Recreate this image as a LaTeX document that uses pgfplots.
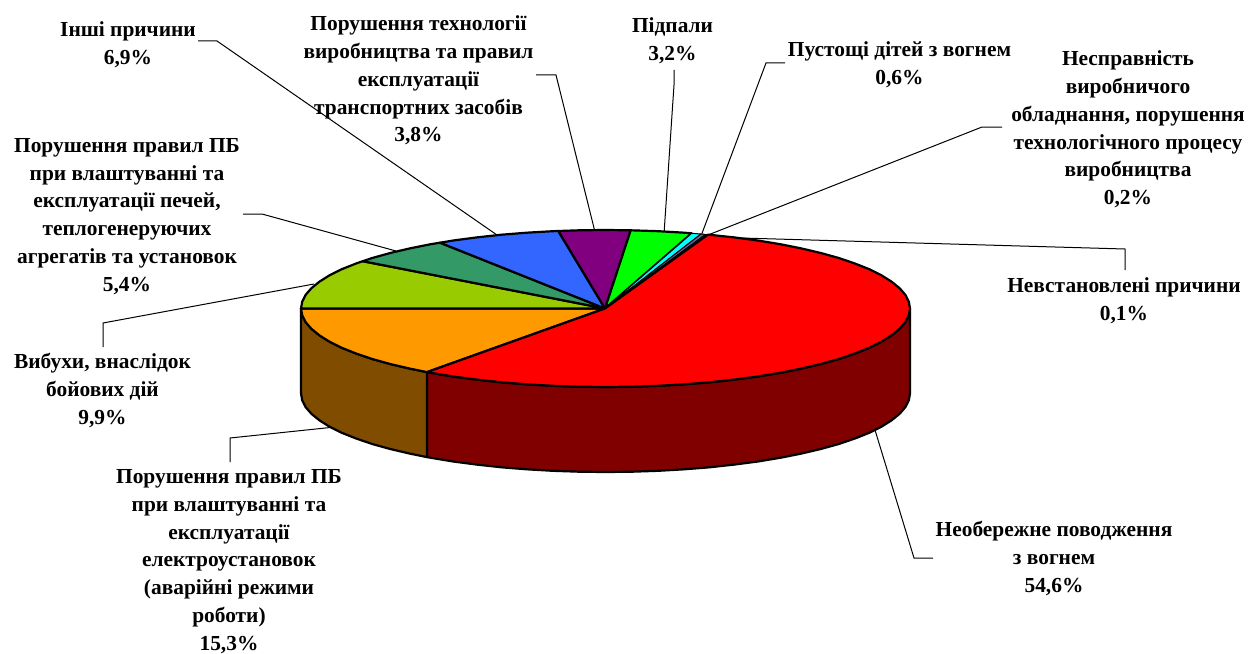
\documentclass[border=0pt]{standalone}
\usepackage{pgfplots}
\pgfplotsset{compat=1.18}
\usepackage{fontspec}
\setmainfont{Liberation Serif}
\definecolor{cRed}{HTML}{FF0000}
\definecolor{cDarkRed}{HTML}{800000}
\definecolor{cOrange}{HTML}{FF9900}
\definecolor{cBrown}{HTML}{804D00}
\definecolor{cLime}{HTML}{99CC00}
\definecolor{cTeal}{HTML}{339966}
\definecolor{cBlue}{HTML}{3366FF}
\definecolor{cPurple}{HTML}{800080}
\definecolor{cGreen}{HTML}{00FF00}
\definecolor{cCyan}{HTML}{00FFFF}
\definecolor{cSlate}{HTML}{666699}
\definecolor{cNavy}{HTML}{333399}
\tikzset{lab/.style={font=\fontsize{21.4}{27.8}\selectfont\bfseries,align=center,inner sep=0pt,anchor=center}}
\pgfplotsset{wedge/.style={draw=black,line width=2.2pt,line join=round},
leader/.style={draw=black,line width=1pt}}
\begin{document}
\begin{tikzpicture}
\begin{axis}[scale only axis,width=1253pt,height=653pt,xmin=0,xmax=1253,ymin=0,ymax=653,y dir=reverse,hide axis,clip=false]
\path (axis cs:0,0) rectangle (axis cs:1253,653);
% leaders
\addplot[leader] coordinates {(198,41)(217,41)(497,235)};
\addplot[leader] coordinates {(536,75)(556,75)(595,232)};
\addplot[leader] coordinates {(674,70)(674,85)(664,234)};
\addplot[leader] coordinates {(785,63)(766,63)(701,236)};
\addplot[leader] coordinates {(1002,127)(982,127)(708,235)};
\addplot[leader] coordinates {(1125,270)(1125,249)(706,237)};
\addplot[leader] coordinates {(933,558)(914,558)(875,430)};
\addplot[leader] coordinates {(230,462)(230,438)(335,427)};
\addplot[leader] coordinates {(103,347)(103,323)(314,284)};
\addplot[leader] coordinates {(243,214)(262,214)(396,251)};
% walls
\addplot[wedge,fill=cDarkRed] coordinates {(910,308.5)(908.8,315.3)(905.4,322.1)(899.6,328.8)(891.6,335.3)(881.5,341.7)(869.2,347.8)(854.9,353.5)(838.8,359)(820.8,364)(801.2,368.6)(780.2,372.8)(757.8,376.5)(734.2,379.6)(709.6,382.3)(684.3,384.3)(658.4,385.8)(632,386.7)(605.5,387)(579,386.7)(552.6,385.8)(526.7,384.3)(501.4,382.3)(476.8,379.6)(453.2,376.5)(430.8,372.8)(427,372.1)
(427,457.1)(430.8,457.8)(453.2,461.5)(476.8,464.6)(501.4,467.3)(526.7,469.3)(552.6,470.8)(579,471.7)(605.5,472)(632,471.7)(658.4,470.8)(684.3,469.3)(709.6,467.3)(734.2,464.6)(757.8,461.5)(780.2,457.8)(801.2,453.6)(820.8,449)(838.8,444)(854.9,438.5)(869.2,432.8)(881.5,426.7)(891.6,420.3)(899.6,413.8)(905.4,407.1)(908.8,400.3)(910,393.5)} -- cycle;
\addplot[wedge,fill=cBrown] coordinates {(427,372.1)(409.8,368.6)(390.2,364)(372.2,359)(356.1,353.5)(341.8,347.8)(329.5,341.7)(319.4,335.3)(311.4,328.8)(305.6,322.1)(302.2,315.3)(301,308.5)
(301,393.5)(302.2,400.3)(305.6,407.1)(311.4,413.8)(319.4,420.3)(329.5,426.7)(341.8,432.8)(356.1,438.5)(372.2,444)(390.2,449)(409.8,453.6)(427,457.1)} -- cycle;
% top
\addplot[wedge,fill=cOrange] coordinates {(605,308.5)(427,372.1)(409.8,368.6)(390.2,364)(372.2,359)(356.1,353.5)(341.8,347.8)(329.5,341.7)(319.4,335.3)(311.4,328.8)(305.6,322.1)(302.2,315.3)(301,308.5)} -- cycle;
\addplot[wedge,fill=cLime] coordinates {(605,308.5)(301,308.5)(302.2,301.7)(305.6,294.9)(311.4,288.2)(319.4,281.7)(329.5,275.3)(341.8,269.2)(356.1,263.5)(362.7,261.2)} -- cycle;
\addplot[wedge,fill=cTeal] coordinates {(605,308.5)(362.7,261.2)(372.2,258)(390.2,253)(409.8,248.4)(430.8,244.2)(440,242.7)} -- cycle;
\addplot[wedge,fill=cBlue] coordinates {(605,308.5)(440,242.7)(453.2,240.5)(476.8,237.4)(501.4,234.7)(526.7,232.7)(552.6,231.2)(558.3,231)} -- cycle;
\addplot[wedge,fill=cPurple] coordinates {(605,308.5)(558.3,231)(579,230.3)(605.5,230)(630.7,230.3)} -- cycle;
\addplot[wedge,fill=cGreen] coordinates {(605,308.5)(630.7,230.3)(658.4,231.2)(684.3,232.7)(691.7,233.3)} -- cycle;
\addplot[draw=black,line width=1pt,line join=round,fill=cCyan] coordinates {(605,308.5)(691.7,233.3)(701,234)} -- cycle;
\addplot[draw=black,line width=1pt,line join=round,fill=cSlate] coordinates {(605,308.5)(701,234)(705.5,234.4)} -- cycle;
\addplot[draw=black,line width=0.6pt,line join=round,fill=cNavy] coordinates {(605,308.5)(705.5,234.4)(708,234.6)} -- cycle;
\addplot[wedge,fill=cRed] coordinates {(605,308.5)(708,234.6)(734.2,237.4)(757.8,240.5)(780.2,244.2)(801.2,248.4)(820.8,253)(838.8,258)(854.9,263.5)(869.2,269.2)(881.5,275.3)(891.6,281.7)(899.6,288.2)(905.4,294.9)(908.8,301.7)(910,308.5)(908.8,315.3)(905.4,322.1)(899.6,328.8)(891.6,335.3)(881.5,341.7)(869.2,347.8)(854.9,353.5)(838.8,359)(820.8,364)(801.2,368.6)(780.2,372.8)(757.8,376.5)(734.2,379.6)(709.6,382.3)(684.3,384.3)(658.4,385.8)(632,386.7)(605.5,387)(579,386.7)(552.6,385.8)(526.7,384.3)(501.4,382.3)(476.8,379.6)(453.2,376.5)(430.8,372.8)(427,372.1)} -- cycle;
% labels
\node[lab] at (axis cs:128,44.5) {Інші причини\\6,9\%};
\node[lab] at (axis cs:418.5,80.5) {Порушення технології\\виробництва та правил\\експлуатації\\транспортних засобів\\3,8\%};
\node[lab] at (axis cs:672.5,40.5) {Підпали\\3,2\%};
\node[lab] at (axis cs:899.5,64.5) {Пустощі дітей з вогнем\\0,6\%};
\node[lab] at (axis cs:1128,129.5) {Несправність\\виробничого\\обладнання, порушення\\технологічного процесу\\виробництва\\0,2\%};
\node[lab] at (axis cs:1124,300.5) {Невстановлені причини\\0,1\%};
\node[lab] at (axis cs:1054,558.5) {Необережне поводження\\з вогнем\\54,6\%};
\node[lab] at (axis cs:102.5,390.5) {Вибухи, внаслідок\\бойових дій\\9,9\%};
\node[lab] at (axis cs:229,561.5) {Порушення правил ПБ\\при влаштуванні та\\експлуатації\\електроустановок\\(аварійні режими\\роботи)\\15,3\%};
\node[lab] at (axis cs:127,216.5) {Порушення правил ПБ\\при влаштуванні та\\експлуатації печей,\\теплогенеруючих\\агрегатів та установок\\5,4\%};
\end{axis}
\end{tikzpicture}
\end{document}
